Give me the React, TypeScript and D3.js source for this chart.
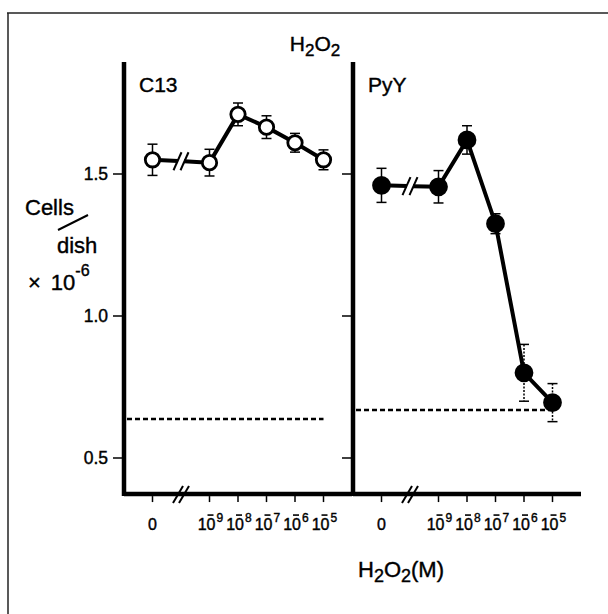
import React from 'react';
import * as d3 from 'd3';

// x positions (in panel units) and tick labels for H2O2 concentration
const concPos = [1, 3, 4, 5, 6, 7];
const concExp = ['0', '9', '8', '7', '6', '5'];

// C13 cells / dish (x 10^-6)
const c13Mean = [1.55, 1.54, 1.71, 1.665, 1.61, 1.55];
const c13Err = [0.055, 0.047, 0.04, 0.04, 0.033, 0.035];
const c13Control = 0.637;

// PyY cells / dish (x 10^-6)
const pyyMean = [1.46, 1.455, 1.62, 1.325, 0.80, 0.695];
const pyyErr = [0.06, 0.057, 0.05, 0.035, 0.10, 0.067];
const pyyControl = 0.669;

const yTicks = [0.5, 1.0, 1.5];

const font = '"Liberation Sans", Arial, sans-serif';
const ink = { stroke: '#000', strokeWidth: 0.4 };

function Panel({ x0, mean, err, control, filled, label }) {
  const x = d3.scaleLinear().domain([0, 8]).range([x0, x0 + 228]);
  const y = d3.scaleLinear().domain([0.5, 1.5]).range([458, 174]);
  const yBottom = y(0.373);
  const yTop = y(1.894);

  const line = d3.line().x(d => x(d[0])).y(d => y(d[1]));
  const pts = concPos.map((p, i) => [p, mean[i]]);
  // segment after the break
  const tail = line(pts.slice(1));

  // broken segment between "0" and "10^-9"
  const p0 = [x(pts[0][0]), y(pts[0][1])];
  const p1 = [x(pts[1][0]), y(pts[1][1])];
  const mx = (p0[0] + p1[0]) / 2, my = (p0[1] + p1[1]) / 2;
  const dx = p1[0] - p0[0], dy = p1[1] - p0[1];
  const len = Math.sqrt(dx * dx + dy * dy);
  const gap = 3;
  const g0 = [mx - dx / len * gap, my - dy / len * gap];
  const g1 = [mx + dx / len * gap, my + dy / len * gap];

  const bx = x(2);
  const ly = yBottom + 36;

  return (
    <g>
      {/* y axis */}
      <line x1={x0} x2={x0} y1={yTop} y2={yBottom + 2} stroke="#000" strokeWidth={4.5} />
      {yTicks.map(t => (
        <line key={t} x1={x0 - 11} x2={x0} y1={y(t)} y2={y(t)} stroke="#000" strokeWidth={1.5} />
      ))}
      {/* x axis */}
      <line x1={x0} x2={x(8)} y1={yBottom} y2={yBottom} stroke="#000" strokeWidth={4.5} />
      {concPos.map((p, i) => (
        <line key={i} x1={x(p)} x2={x(p)} y1={yBottom + 2} y2={yBottom + 8} stroke="#000" strokeWidth={1.5} />
      ))}
      {[-3, 3].map(o => (
        <line key={o} x1={bx + o - 5} x2={bx + o + 5} y1={yBottom + 9} y2={yBottom - 8} stroke="#000" strokeWidth={2} />
      ))}
      {concPos.map((p, i) => (
        concExp[i] === '0'
          ? <text key={i} x={x(p)} y={ly} textAnchor="middle" fontFamily={font} fontSize={16} {...ink}>0</text>
          : <g key={i}>
              <text x={x(p) + 6} y={ly} textAnchor="end" fontFamily={font} fontSize={16} {...ink}>10</text>
              <line x1={x(p) - 2} x2={x(p) + 4} y1={ly - 15} y2={ly - 15} stroke="#000" strokeWidth={1.6} />
              <text x={x(p) + 7} y={ly - 8} fontFamily={font} fontSize={12} {...ink}>{concExp[i]}</text>
            </g>
      ))}
      <text x={x0 + 15} y={92} fontFamily={font} fontSize={21} {...ink}>{label}</text>

      {/* control level */}
      <line x1={x(0) + 3} x2={x(7)} y1={y(control)} y2={y(control)} stroke="#000"
        strokeWidth={2.5} strokeDasharray="5,3" />

      {/* data line */}
      <line x1={p0[0]} y1={p0[1]} x2={g0[0]} y2={g0[1]} stroke="#000" strokeWidth={4} />
      <line x1={g1[0]} y1={g1[1]} x2={p1[0]} y2={p1[1]} stroke="#000" strokeWidth={4} />
      {[-3.5, 3.5].map(o => (
        <line key={o} x1={mx + o - 4} x2={mx + o + 4} y1={my + 9} y2={my - 9} stroke="#000" strokeWidth={2} />
      ))}
      <path d={tail} fill="none" stroke="#000" strokeWidth={4} />

      {/* error bars */}
      {pts.map((d, i) => (
        <g key={i} stroke="#000" strokeWidth={1.5}>
          <line x1={x(d[0])} x2={x(d[0])} y1={y(d[1] + err[i])} y2={y(d[1] - err[i])}
            strokeDasharray={!filled || i < 4 ? null : '2,1.5'} />
          <line x1={x(d[0]) - 5} x2={x(d[0]) + 5} y1={y(d[1] + err[i])} y2={y(d[1] + err[i])} />
          <line x1={x(d[0]) - 5} x2={x(d[0]) + 5} y1={y(d[1] - err[i])} y2={y(d[1] - err[i])} />
        </g>
      ))}
      {/* markers */}
      {pts.map((d, i) => (
        <circle key={i} cx={x(d[0])} cy={y(d[1])} r={filled ? 8 : 7.2}
          fill={filled ? '#000' : '#fff'} stroke="#000" strokeWidth={2.8} />
      ))}
    </g>
  );
}

export default function App() {
  const y = d3.scaleLinear().domain([0.5, 1.5]).range([458, 174]);
  return (
    <svg width={608} height={614} style={{ position: 'absolute', left: 0, top: 0, background: '#fff' }}>
      <rect width={608} height={614} fill="#fff" />
      {/* page frame */}
      <line x1={7} x2={608} y1={13} y2={13} stroke="#222" strokeWidth={1.5} />
      <line x1={8} x2={8} y1={13} y2={614} stroke="#222" strokeWidth={1.5} />

      <text x={315} y={51} textAnchor="middle" fontFamily={font} fontSize={21} {...ink}>
        H<tspan dy={5} fontSize={17}>2</tspan><tspan dy={-5}>O</tspan><tspan dy={5} fontSize={17}>2</tspan>
      </text>

      <Panel x0={124} mean={c13Mean} err={c13Err} control={c13Control} filled={false} label="C13" />
      <Panel x0={353} mean={pyyMean} err={pyyErr} control={pyyControl} filled={true} label="PyY" />

      {yTicks.map(t => (
        <text key={t} x={108} y={y(t) + 6} textAnchor="end" fontFamily={font} fontSize={17.5} {...ink}>{t.toFixed(1)}</text>
      ))}

      <text x={25} y={215} fontFamily={font} fontSize={22} {...ink}>Cells</text>
      <line x1={58} y1={230} x2={88} y2={215} stroke="#000" strokeWidth={2} />
      <text x={57} y={253} fontFamily={font} fontSize={22} {...ink}>dish</text>
      <text x={28} y={290} fontFamily={font} fontSize={22} {...ink}>
        ×<tspan dx={10}>10</tspan><tspan dy={-14} fontSize={16}>-6</tspan>
      </text>

      <text x={358} y={577} fontFamily={font} fontSize={22} {...ink}>
        H<tspan dy={5} fontSize={18}>2</tspan><tspan dy={-5}>O</tspan><tspan dy={5} fontSize={18}>2</tspan><tspan dy={-5}>(M)</tspan>
      </text>
    </svg>
  );
}
